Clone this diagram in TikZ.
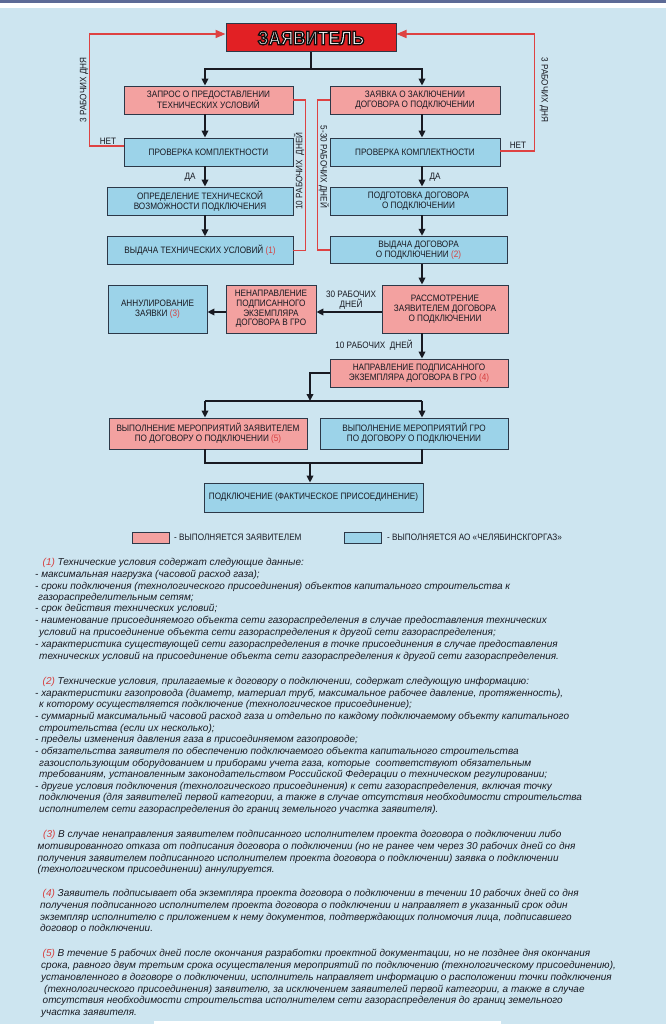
\documentclass[tikz,border=0pt]{standalone}
\usepackage{fontspec}
\setmainfont{Liberation Sans}
\newfontfamily\nar[FakeStretch=0.88]{Liberation Sans}
\usetikzlibrary{arrows.meta}
\definecolor{bgblue}{RGB}{205,229,240}
\definecolor{pinkf}{RGB}{243,161,160}
\definecolor{bluef}{RGB}{156,211,233}
\definecolor{redbox}{RGB}{226,32,36}
\definecolor{redline}{RGB}{222,66,66}
\definecolor{numred}{RGB}{214,64,64}
\definecolor{bord}{RGB}{44,56,72}
\definecolor{txt}{RGB}{24,26,34}
\definecolor{topband}{RGB}{92,106,150}
\newcommand\outl[1]{\special{pdf:literal direct 2 Tr 1.3 w 0.05 0.05 0.05 RG}#1\special{pdf:literal direct 0 Tr}}
\tikzset{
 box/.style={draw=bord, line width=0.8pt, inner sep=0pt, align=center, font=\nar\fontsize{9.3}{9.8}\selectfont, text=txt},
 pinkbox/.style={box, fill=pinkf},
 bluebox/.style={box, fill=bluef},
 arr/.style={draw=txt, line width=1.8pt, -{Triangle[length=7pt,width=6.5pt]}},
 ln/.style={draw=txt, line width=1.8pt},
 rarr/.style={draw=redline, line width=1.7pt, -{Triangle[length=10pt,width=8pt]}},
 rln/.style={draw=redline, line width=1.7pt},
 lbl/.style={inner sep=0pt, font=\nar\fontsize{9.3}{9.8}\selectfont, text=txt},
 para/.style={inner sep=0pt, anchor=west, font=\itshape\fontsize{10}{11}\selectfont, text=txt, text height=7pt, text depth=2pt},
 swatch/.style={draw=bord, line width=0.4pt, minimum width=37pt, minimum height=11pt, inner sep=0pt},
}
\begin{document}
\begin{tikzpicture}[x=1pt,y=-1pt]
\useasboundingbox (0,0) rectangle (666,1024);
\fill[bgblue] (0,0) rectangle (666,1024);
\fill[topband] (0,0) rectangle (666,2.8);
\fill[white] (0,2.8) rectangle (666,8.5);
\fill[white] (154,1021) rectangle (501,1024);

\coordinate (cl) at (205,0);
\coordinate (cr) at (422,0);

% boxes
\node[draw=bord, line width=1pt, fill=redbox, minimum width=170pt, minimum height=28pt, inner sep=0pt, text=white, font=\nar\bfseries\fontsize{19.5}{20}\selectfont] (zv) at (311,38) {\outl{ЗАЯВИТЕЛЬ}};
\node[pinkbox, minimum width=169pt, minimum height=28pt] (zap) at (208.5,100) {ЗАПРОС О ПРЕДОСТАВЛЕНИИ\\ТЕХНИЧЕСКИХ УСЛОВИЙ};
\node[pinkbox, minimum width=170pt, minimum height=28pt] (zay) at (415,100) {ЗАЯВКА О ЗАКЛЮЧЕНИИ\\ДОГОВОРА О ПОДКЛЮЧЕНИИ};
\node[bluebox, minimum width=169pt, minimum height=28pt] (prov1) at (208.5,152) {ПРОВЕРКА КОМПЛЕКТНОСТИ};
\node[bluebox, minimum width=170pt, minimum height=28pt] (prov2) at (415,152) {ПРОВЕРКА КОМПЛЕКТНОСТИ};
\node[bluebox, minimum width=186pt, minimum height=28pt] (opr) at (200,201) {ОПРЕДЕЛЕНИЕ ТЕХНИЧЕСКОЙ\\ВОЗМОЖНОСТИ ПОДКЛЮЧЕНИЯ};
\node[bluebox, minimum width=177pt, minimum height=28pt] (podg) at (418.5,201) {ПОДГОТОВКА ДОГОВОРА\\О ПОДКЛЮЧЕНИИ};
\node[bluebox, minimum width=186pt, minimum height=27.5pt] (vtu) at (200,250.5) {ВЫДАЧА ТЕХНИЧЕСКИХ УСЛОВИЙ \textcolor{numred}{(1)}};
\node[bluebox, minimum width=177pt, minimum height=27.5pt] (vdog) at (418.5,250) {ВЫДАЧА ДОГОВОРА\\О ПОДКЛЮЧЕНИИ \textcolor{numred}{(2)}};
\node[bluebox, minimum width=99pt, minimum height=48pt] (ann) at (157.5,309) {АННУЛИРОВАНИЕ\\ЗАЯВКИ \textcolor{numred}{(3)}};
\node[pinkbox, minimum width=90pt, minimum height=48pt] (nen) at (271,309) {НЕНАПРАВЛЕНИЕ\\ПОДПИСАННОГО\\ЭКЗЕМПЛЯРА\\ДОГОВОРА В ГРО};
\node[pinkbox, minimum width=126pt, minimum height=48pt] (rass) at (445,309) {РАССМОТРЕНИЕ\\ЗАЯВИТЕЛЕМ ДОГОВОРА\\О ПОДКЛЮЧЕНИИ};
\node[pinkbox, minimum width=178pt, minimum height=28pt] (napr) at (419,373) {НАПРАВЛЕНИЕ ПОДПИСАННОГО\\ЭКЗЕМПЛЯРА ДОГОВОРА В ГРО \textcolor{numred}{(4)}};
\node[pinkbox, minimum width=198pt, minimum height=31pt] (vz) at (208,433.5) {ВЫПОЛНЕНИЕ МЕРОПРИЯТИЙ ЗАЯВИТЕЛЕМ\\ПО ДОГОВОРУ О ПОДКЛЮЧЕНИИ \textcolor{numred}{(5)}};
\node[bluebox, minimum width=188pt, minimum height=31pt] (vg) at (414,433.5) {ВЫПОЛНЕНИЕ МЕРОПРИЯТИЙ ГРО\\ПО ДОГОВОРУ О ПОДКЛЮЧЕНИИ};
\node[bluebox, minimum width=219pt, minimum height=29pt] (podk) at (313.5,497.5) {ПОДКЛЮЧЕНИЕ (ФАКТИЧЕСКОЕ ПРИСОЕДИНЕНИЕ)};

% black connectors
\coordinate (j0) at (311,69);
\draw[ln] (zv.south) -- (j0);
\draw[arr] (j0) -| (zap.north -| cl);
\draw[arr] (j0) -| (zay.north -| cr);
\draw[arr] (zap.south -| cl) -- (prov1.north -| cl);
\draw[arr] (prov1.south -| cl) -- (opr.north -| cl);
\draw[arr] (opr.south -| cl) -- (vtu.north -| cl);
\draw[arr] (zay.south -| cr) -- (prov2.north -| cr);
\draw[arr] (prov2.south -| cr) -- (podg.north -| cr);
\draw[arr] (podg.south -| cr) -- (vdog.north -| cr);
\draw[arr] (vdog.south -| cr) -- (rass.north -| cr);
\draw[arr] (rass.south -| cr) -- (napr.north -| cr);
\coordinate (r312) at (0,312);
\draw[arr] (rass.west |- r312) -- (nen.east |- r312);
\draw[arr] (nen.west |- r312) -- (ann.east |- r312);
\coordinate (sp) at (310,401);
\draw[arr] (napr.west) -| (sp);
\draw[ln] (sp -| cl) -- (sp -| cr);
\draw[arr] (sp -| cl) -- (vz.north -| cl);
\draw[arr] (sp -| cr) -- (vg.north -| cr);
\coordinate (jn) at (310,463);
\draw[ln] (vz.south -| cl) -- (jn -| cl) -- (jn -| cr) -- (vg.south -| cr);
\draw[arr] (jn) -- (podk.north -| jn);

% red connectors
\draw[rarr] ([yshift=6pt]prov1.west) -- ++(-34,0) |- ([yshift=4pt]zv.west);
\draw[rarr] ([yshift=1pt]prov2.east) -- ++(34,0) |- ([yshift=4pt]zv.east);
\draw[rln] (zap.east) -- ++(12,0) |- (vtu.east);
\draw[rln] (zay.west) -- ++(-12,0) |- (vdog.west);

% labels
\node[lbl] (net1) at (108,141) {НЕТ};
\node[lbl] (net2) at (518,145) {НЕТ};
\node[lbl, rotate=90] (d3l) at (84,90) {3 РАБОЧИХ ДНЯ};
\node[lbl, rotate=-90] (d3r) at (544,90) {3 РАБОЧИХ ДНЯ};
\node[lbl, rotate=90] (d10) at (299,171) {10 РАБОЧИХ~~ДНЕЙ};
\node[lbl, rotate=-90] (d530) at (324,167) {5-30 РАБОЧИХ ДНЕЙ};
\node[lbl] (da1) at (190,177) {ДА};
\node[lbl] (da2) at (435,177) {ДА};
\node[lbl, align=center] (d30) at (351,300) {30 РАБОЧИХ\\ДНЕЙ};
\node[lbl] (d10b) at (374,345) {10 РАБОЧИХ~~ДНЕЙ};

% legend
\node[swatch, fill=pinkf] (lg1) at (150.5,537.5) {};
\node[lbl, anchor=west] (lt1) at (174,537.5) {- ВЫПОЛНЯЕТСЯ ЗАЯВИТЕЛЕМ};
\node[swatch, fill=bluef] (lg2) at (362.5,537.5) {};
\node[lbl, anchor=west] (lt2) at (387,537.5) {- ВЫПОЛНЯЕТСЯ АО «ЧЕЛЯБИНСКГОРГАЗ»};

% notes
\node[para] (p1a) at (42.5,563) {\textcolor{numred}{(1)} Технические условия содержат следующие данные:};
\node[para] (p1b) at (35,575) {- максимальная нагрузка (часовой расход газа);};
\node[para] (p1c) at (35,587) {- сроки подключения (технологического присоединения) объектов капитального строительства к};
\node[para] (p1d) at (38,598) {газораспределительным сетям;};
\node[para] (p1e) at (35,609) {- срок действия технических условий;};
\node[para] (p1f) at (35,621) {- наименование присоединяемого объекта сети газораспределения в случае предоставления технических};
\node[para] (p1g) at (39,633) {условий на присоединение объекта сети газораспределения к другой сети газораспределения;};
\node[para] (p1h) at (35,645) {- характеристика существующей сети газораспределения в точке присоединения в случае предоставления};
\node[para] (p1i) at (39,657) {технических условий на присоединение объекта сети газораспределения к другой сети газораспределения.};

\node[para] (p2a) at (42.5,682) {\textcolor{numred}{(2)} Технические условия, прилагаемые к договору о подключении, содержат следующую информацию:};
\node[para] (p2b) at (35,694) {- характеристики газопровода (диаметр, материал труб, максимальное рабочее давление, протяженность),};
\node[para] (p2c) at (39,705) {к которому осуществляется подключение (технологическое присоединение);};
\node[para] (p2d) at (35,717) {- суммарный максимальный часовой расход газа и отдельно по каждому подключаемому объекту капитального};
\node[para] (p2e) at (39,729) {строительства (если их несколько);};
\node[para] (p2f) at (35,740) {- пределы изменения давления газа в присоединяемом газопроводе;};
\node[para] (p2g) at (35,752) {- обязательства заявителя по обеспечению подключаемого объекта капитального строительства};
\node[para] (p2h) at (39,764) {газоиспользующим оборудованием и приборами учета газа, которые~~соответствуют обязательным};
\node[para] (p2i) at (39,775) {требованиям, установленным законодательством Российской Федерации о техническом регулировании;};
\node[para] (p2j) at (35,787) {- другие условия подключения (технологического присоединения) к сети газораспределения, включая точку};
\node[para] (p2k) at (39,798) {подключения (для заявителей первой категории, а также в случае отсутствия необходимости строительства};
\node[para] (p2l) at (39,810) {исполнителем сети газораспределения до границ земельного участка заявителя).};

\node[para] (p3a) at (43,835) {\textcolor{numred}{(3)} В случае ненаправления заявителем подписанного исполнителем проекта договора о подключении либо};
\node[para] (p3b) at (37.5,847) {мотивированного отказа от подписания договора о подключении (но не ранее чем через 30 рабочих дней со дня};
\node[para] (p3c) at (37.5,859) {получения заявителем подписанного исполнителем проекта договора о подключении) заявка о подключении};
\node[para] (p3d) at (37.5,870) {(технологическом присоединении) аннулируется.};

\node[para] (p4a) at (42.5,894) {\textcolor{numred}{(4)} Заявитель подписывает оба экземпляра проекта договора о подключении в течении 10 рабочих дней со дня};
\node[para] (p4b) at (40,906) {получения подписанного исполнителем проекта договора о подключении и направляет в указанный срок один};
\node[para] (p4c) at (40,918) {экземпляр исполнителю с приложением к нему документов, подтверждающих полномочия лица, подписавшего};
\node[para] (p4d) at (40,929) {договор о подключении.};

\node[para] (p5a) at (42.5,954) {\textcolor{numred}{(5)} В течение 5 рабочих дней после окончания разработки проектной документации, но не позднее дня окончания};
\node[para] (p5b) at (41,966) {срока, равного двум третьим срока осуществления мероприятий по подключению (технологическому присоединению),};
\node[para] (p5c) at (41,978) {установленного в договоре о подключении, исполнитель направляет информацию о расположении точки подключения};
\node[para] (p5d) at (44,990) {(технологического присоединения) заявителю, за исключением заявителей первой категории, а также в случае};
\node[para] (p5e) at (42.5,1001) {отсутствия необходимости строительства исполнителем сети газораспределения до границ земельного};
\node[para] (p5f) at (41,1013) {участка заявителя.};
\end{tikzpicture}
\end{document}
